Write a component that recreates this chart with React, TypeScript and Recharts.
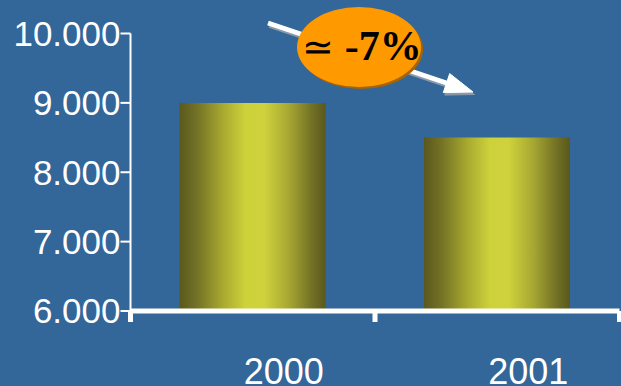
import React from 'react';
import { BarChart, Bar, XAxis, YAxis } from 'recharts';

const categories = ['2000', '2001'];
const values = [9000, 8500];
const yTicks = [6000, 7000, 8000, 9000, 10000];
const annotationSymbol = '≃';
const annotationValue = '-7%';

const data = categories.map((c, i) => ({ year: c, value: values[i] }));

const fmt = (v: number) => String(v).replace(/\B(?=(\d{3})+(?!\d))/g, '.');

const FONT = '"Liberation Sans", Arial, Helvetica, sans-serif';

const XTick = (props: any) => {
  const { x, y, payload, index, visibleTicksCount, width } = props;
  const off = payload && payload.offset ? payload.offset : width / visibleTicksCount / 2;
  const left = x - off;
  const right = x + off;
  return (
    <g>
      <line x1={left} x2={left} y1={y} y2={y + 11} stroke="#ffffff" strokeWidth={5} />
      {index === visibleTicksCount - 1 && (
        <line x1={right} x2={right} y1={y} y2={y + 11} stroke="#ffffff" strokeWidth={5} />
      )}
      <text x={x + 31} y={y + 73} textAnchor="middle" fill="#ffffff" fontSize={36} fontFamily={FONT}>
        {payload.value}
      </text>
    </g>
  );
};

export default function App() {
  return (
    <div
      style={{
        position: 'absolute',
        left: 0,
        top: 0,
        width: 621,
        height: 386,
        overflow: 'hidden',
        background: '#336699',
      }}
    >
      <BarChart
        width={624}
        height={386}
        data={data}
        margin={{ top: 33.5, right: 4.5, left: 0, bottom: 0 }}
        barCategoryGap="20%"
      >
        <defs>
          <linearGradient id="barGrad" x1="0" y1="0" x2="1" y2="0">
            <stop offset="0%" stopColor="#5a581c" />
            <stop offset="12%" stopColor="#737226" />
            <stop offset="30%" stopColor="#a9aa30" />
            <stop offset="45%" stopColor="#cdd13a" />
            <stop offset="58%" stopColor="#cfd23c" />
            <stop offset="75%" stopColor="#a6a732" />
            <stop offset="90%" stopColor="#747326" />
            <stop offset="100%" stopColor="#5a581c" />
          </linearGradient>
        </defs>
        <XAxis
          dataKey="year"
          height={75}
          axisLine={{ stroke: '#ffffff', strokeWidth: 5 }}
          tickLine={false}
          tickSize={0}
          tickMargin={0}
          tick={<XTick />}
          interval={0}
        />
        <YAxis
          width={130.5}
          domain={[6000, 10000]}
          ticks={yTicks}
          allowDataOverflow
          tickFormatter={fmt}
          axisLine={{ stroke: '#ffffff', strokeWidth: 2 }}
          tickLine={{ stroke: '#ffffff', strokeWidth: 2 }}
          tickSize={10}
          tickMargin={0}
          tick={{ fill: '#ffffff', fontSize: 35, fontFamily: FONT }}
        />
        <Bar dataKey="value" fill="url(#barGrad)" barSize={146} isAnimationActive={false} />
      </BarChart>
      <svg
        width={621}
        height={386}
        style={{ position: 'absolute', left: 0, top: 0, pointerEvents: 'none' }}
      >
        <g transform="translate(1.5,2.5)" fill="#8a9aaa" stroke="#8a9aaa">
          <line x1={268} y1={23} x2={448} y2={83.5} strokeWidth={5} />
          <polygon points="473,92 443.3,92.6 449.7,73.6" strokeWidth={1} />
        </g>
        <g fill="#ffffff" stroke="#ffffff">
          <line x1={268} y1={23} x2={448} y2={83.5} strokeWidth={5} />
          <polygon points="473,92 443.3,92.6 449.7,73.6" strokeWidth={1} />
        </g>
        <ellipse cx={361} cy={49} rx={62} ry={40} fill="#a86400" />
        <ellipse cx={359} cy={47} rx={62} ry={40} fill="#ff9900" />
        <text
          x={362}
          y={59.5}
          textAnchor="middle"
          fill="#000000"
          fontFamily='"Liberation Serif", "Times New Roman", serif'
        >
          <tspan fontSize={38} fontWeight="normal">{annotationSymbol}</tspan>
          <tspan fontSize={42} fontWeight="bold">{' ' + annotationValue}</tspan>
        </text>
      </svg>
    </div>
  );
}
